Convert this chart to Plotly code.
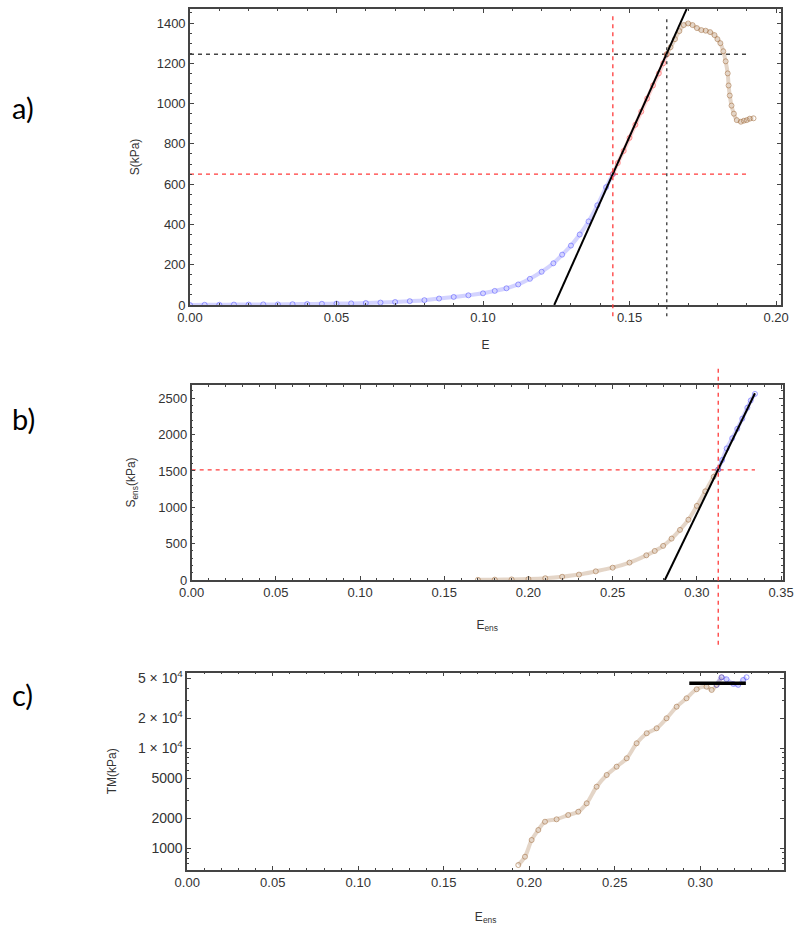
import plotly.graph_objects as go

# ---------------- Panel a data ----------------
Ea_blue = [0.000, 0.005, 0.010, 0.015, 0.020, 0.025, 0.030, 0.035, 0.040, 0.045, 0.050, 0.055,
           0.060, 0.065, 0.070, 0.075, 0.080, 0.085, 0.090, 0.095, 0.100, 0.104, 0.108, 0.112,
           0.116, 0.120, 0.124, 0.127, 0.130, 0.133, 0.136, 0.139, 0.142, 0.1443]
Sa_blue = [0, 1, 1, 2, 2, 3, 3, 4, 5, 6, 7, 8,
           10, 12, 15, 19, 24, 32, 40, 48, 58, 70, 83, 102,
           130, 165, 207, 250, 295, 350, 415, 495, 585, 650]
Ea_red = [0.1443, 0.146, 0.148, 0.150, 0.152, 0.154, 0.156, 0.158, 0.160, 0.1615, 0.1627]
Sa_red = [650, 705, 765, 830, 895, 960, 1025, 1090, 1150, 1200, 1245]
Ea_brown = [0.1627, 0.164, 0.1655, 0.167, 0.1685, 0.170, 0.1715, 0.173, 0.1745, 0.176, 0.1775,
            0.179, 0.180, 0.181, 0.182, 0.1828, 0.1835, 0.1838, 0.1842, 0.1848, 0.1856, 0.1866,
            0.188, 0.189, 0.190, 0.191, 0.1923]
Sa_brown = [1245, 1280, 1320, 1360, 1390, 1398, 1390, 1375, 1365, 1362, 1355,
            1340, 1320, 1300, 1260, 1210, 1150, 1090, 1040, 990, 950, 918,
            910, 915, 918, 925, 927]
Ea_fit = [0.1243, 0.1695]
Sa_fit = [0, 1470]
Ea_hline = [0.0, 0.191]
Sa_red_level = 650
Sa_black_level = 1245
Ea_red_v = 0.1443
Ea_black_v = 0.1627

# ---------------- Panel b data ----------------
Eb_brown = [0.17, 0.18, 0.19, 0.20, 0.21, 0.22, 0.23, 0.24, 0.25, 0.26, 0.27, 0.275,
            0.28, 0.285, 0.29, 0.295, 0.30, 0.305, 0.31, 0.3127]
Sb_brown = [3, 5, 8, 14, 25, 45, 75, 120, 170, 240, 340, 400,
            470, 570, 690, 830, 1020, 1220, 1420, 1520]
Eb_blue = [0.3127, 0.315, 0.3177, 0.321, 0.324, 0.327, 0.330, 0.332, 0.3345]
Sb_blue = [1520, 1650, 1810, 1950, 2080, 2220, 2370, 2470, 2560]
Eb_fit = [0.281, 0.3345]
Sb_fit = [0, 2569]
Eb_hline = [0.0, 0.3345]
Sb_red_level = 1515
Eb_red_v = 0.3127

# ---------------- Panel c data ----------------
Ec_brown = [0.1936, 0.1975, 0.2014, 0.2053, 0.2092, 0.216, 0.2228, 0.2287, 0.2336, 0.2394,
            0.2453, 0.2511, 0.257, 0.2628, 0.2687, 0.2745, 0.2803, 0.2862, 0.292, 0.2979,
            0.3037, 0.3067, 0.3096, 0.3125]
TMc_brown = [681, 824, 1211, 1524, 1845, 1950, 2153, 2323, 2818, 4130,
             5410, 6550, 7940, 11220, 14130, 15850, 19950, 26060, 31620, 38900,
             41300, 38300, 43000, 51300]
Ec_blue = [0.3096, 0.3125, 0.3154, 0.3193, 0.3222, 0.3251, 0.3271]
TMc_blue = [43000, 51300, 49000, 44000, 43000, 48200, 51300]
Ec_fit = [0.2936, 0.3267]
TMc_fit = [44700, 44700]

tm_tickvals = [1000, 2000, 5000, 10000, 20000, 50000]
tm_ticktext = ["1000", "2000", "5000", "1 × 10<sup>4</sup>", "2 × 10<sup>4</sup>", "5 × 10<sup>4</sup>"]
tm_minor = [700, 800, 900, 3000, 4000, 6000, 7000, 8000, 9000, 30000, 40000]

BLUE = "rgba(80,80,255,0.55)"
BLUE_L = "rgba(80,80,255,0.25)"
BROWN = "rgba(165,115,70,0.6)"
BROWN_L = "rgba(165,115,70,0.3)"
RED = "rgba(255,80,80,0.6)"
RED_L = "rgba(255,80,80,0.25)"
FRAME = "#444444"
RED_DASH = "#ff3b3b"
BLK_DASH = "#444444"

fig = go.Figure()


def scat(x, y, col, coll, xa, ya):
    fig.add_trace(go.Scatter(
        x=x, y=y, mode="lines+markers", xaxis=xa, yaxis=ya,
        line=dict(color=coll, width=4, shape="spline"),
        marker=dict(symbol="circle-open", size=5, color=col, line=dict(width=1, color=col)),
        showlegend=False, hoverinfo="skip"))


def line(x, y, color, width, dash, xa, ya):
    fig.add_trace(go.Scatter(x=x, y=y, mode="lines", xaxis=xa, yaxis=ya,
                             line=dict(color=color, width=width, dash=dash),
                             showlegend=False, hoverinfo="skip"))


# Panel a
line(Ea_hline, [Sa_red_level] * 2, RED_DASH, 1.3, "4px,4px", "x", "y")
line(Ea_hline, [Sa_black_level] * 2, BLK_DASH, 1.3, "4px,4px", "x", "y")
scat(Ea_blue, Sa_blue, BLUE, BLUE_L, "x", "y")
scat(Ea_red, Sa_red, RED, RED_L, "x", "y")
scat(Ea_brown, Sa_brown, BROWN, BROWN_L, "x", "y")
line(Ea_fit, Sa_fit, "black", 2, "solid", "x", "y")

# Panel b
line(Eb_hline, [Sb_red_level] * 2, RED_DASH, 1.3, "4px,4px", "x2", "y2")
scat(Eb_brown, Sb_brown, BROWN, BROWN_L, "x2", "y2")
scat(Eb_blue, Sb_blue, BLUE, BLUE_L, "x2", "y2")
line(Eb_fit, Sb_fit, "black", 2, "solid", "x2", "y2")

# Panel c
scat(Ec_brown, TMc_brown, BROWN, BROWN_L, "x3", "y3")
scat(Ec_blue, TMc_blue, BLUE, BLUE_L, "x3", "y3")
line(Ec_fit, TMc_fit, "black", 3.5, "solid", "x3", "y3")

# vertical guide lines (extending beyond the frames)
fig.add_shape(type="line", xref="x", yref="paper", x0=Ea_red_v, x1=Ea_red_v, y0=0.661, y1=0.984,
              line=dict(color=RED_DASH, width=1.3, dash="4px,4px"))
fig.add_shape(type="line", xref="x", yref="paper", x0=Ea_black_v, x1=Ea_black_v, y0=0.661, y1=0.982,
              line=dict(color=BLK_DASH, width=1.4, dash="3px,4px"))
fig.add_shape(type="line", xref="x2", yref="paper", x0=Eb_red_v, x1=Eb_red_v, y0=0.309, y1=0.606,
              line=dict(color=RED_DASH, width=1.3, dash="4px,4px"))

tickfont = dict(family="Liberation Sans, Arial, sans-serif", size=13, color="#333333")
titlefont = dict(family="Liberation Sans, Arial, sans-serif", size=12, color="#333333")

common = dict(showline=True, linecolor=FRAME, linewidth=1.6, mirror="allticks",
              ticks="inside", ticklen=4, tickcolor=FRAME, tickwidth=1, automargin=False,
              showgrid=False, zeroline=False, title_font=titlefont)

fig.update_layout(
    width=800, height=933, margin=dict(l=0, r=0, t=0, b=0, autoexpand=False),
    paper_bgcolor="white", plot_bgcolor="white",
    xaxis=dict(domain=[0.2375, 0.9763], range=[0, 0.2017], anchor="y", dtick=0.05, tickformat=".2f",
               minor=dict(dtick=0.01, ticklen=2, tickcolor=FRAME, ticks="inside"), tickfont=tickfont,
               title=dict(text="E", standoff=16), **common),
    yaxis=dict(domain=[0.6731, 0.9904], range=[0, 1470], anchor="x", dtick=200,
               minor=dict(dtick=50, ticklen=2, tickcolor=FRAME, ticks="inside"), tickfont=tickfont,
               title=dict(text="S(kPa)", standoff=14), **common),
    xaxis2=dict(domain=[0.2396, 0.9784], range=[0, 0.351], anchor="y2", dtick=0.05, tickformat=".2f",
                minor=dict(dtick=0.01, ticklen=2, tickcolor=FRAME, ticks="inside"), tickfont=tickfont,
                title=dict(text="E<sub>ens</sub>", standoff=21), **common),
    yaxis2=dict(domain=[0.3783, 0.5874], range=[0, 2683], anchor="x2", dtick=500,
                minor=dict(dtick=100, ticklen=2, tickcolor=FRAME, ticks="inside"), tickfont=tickfont,
                title=dict(text="S<sub>ens</sub>(kPa)", standoff=20), **common),
    xaxis3=dict(domain=[0.2341, 0.98], range=[0, 0.349], anchor="y3", dtick=0.05, tickformat=".2f",
                minor=dict(dtick=0.01, ticklen=2, tickcolor=FRAME, ticks="inside"), tickfont=tickfont,
                title=dict(text="E<sub>ens</sub>", standoff=23), **common),
    yaxis3=dict(domain=[0.0675, 0.279], type="log", range=[2.783, 4.756], anchor="x3",
                tickmode="array", tickvals=tm_tickvals, ticktext=tm_ticktext,
                tickfont=dict(family="Liberation Sans, Arial, sans-serif", size=14, color="#333333"),
                minor=dict(tickmode="array", tickvals=tm_minor, ticklen=2, tickcolor=FRAME, ticks="inside"),
                title=dict(text="TM(kPa)", standoff=19), **common),
)

labfont = dict(family="Lato, Open Sans, sans-serif", size=29, color="black")
for txt, yy in [("a)", 1 - 107 / 933), ("b)", 1 - 418 / 933), ("c)", 1 - 694 / 933)]:
    fig.add_annotation(text=txt, xref="paper", yref="paper", x=0.012, y=yy, xanchor="left",
                       yanchor="middle", showarrow=False, font=labfont)

fig.write_html("out.html", config={"displayModeBar": False},
               post_script="document.body.style.margin='0px';document.body.style.overflow='hidden';")
